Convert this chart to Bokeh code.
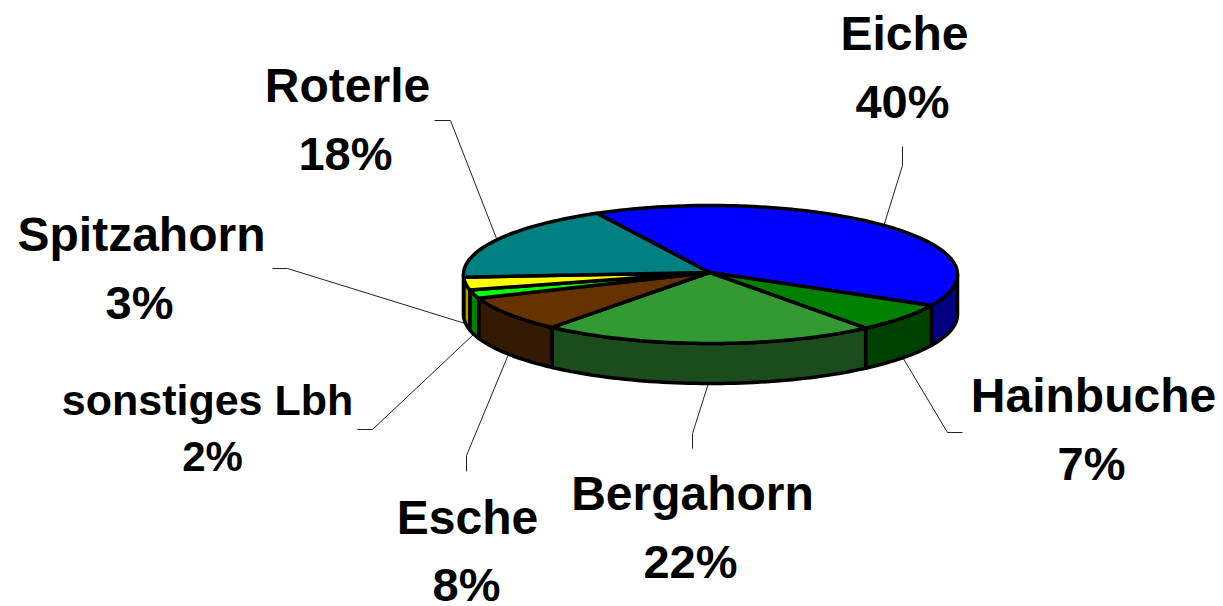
import math
from bokeh.plotting import figure
from bokeh.embed import file_html
from bokeh.resources import INLINE
from bokeh.core.properties import value

# data
categories = ["Eiche", "Hainbuche", "Bergahorn", "Esche", "sonstiges Lbh", "Spitzahorn", "Roterle"]
shares = [40, 6.8, 21.9, 8.3, 2, 3, 18]

# style
top_colors = ["#0000FF", "#008000", "#339933", "#663300", "#00FF00", "#FFFF00", "#008080"]
side_colors = ["#000080", "#004000", "#1C4C1C", "#331A00", "#008000", "#B3A000", "#004040"]

# layout (pixels in the page picture)
W, H = 1223, 606
CX, CY, RX, RY, DEPTH = 710, 274, 247, 69, 40
START = -27.4
label_xy = [(904, 33), (1093, 395), (692, 493), (467, 517), (207, 399), (141, 234), (347, 85)]
pct_xy = [(902, 101), (1091, 463), (690, 561), (466, 584), (212, 456), (139, 302), (345, 153)]
label_size = ["48px", "48px", "48px", "48px", "43px", "48px", "48px"]
pct_size = ["47px", "47px", "47px", "47px", "42px", "47px", "47px"]
leader_tail = [[(902, 146), (902, 165)], [(962, 432), (947, 432)], [(692, 448), (692, 433)],
               [(466, 471), (466, 455)], [(357, 429), (372, 429)], [(272, 268), (287, 268)],
               [(434, 120), (450, 120)]]


def rim(deg, drop=0):
    t = math.radians(deg)
    return CX + RX * math.sin(t), CY - RY * math.cos(t) + drop


def arc(a0, a1, drop=0):
    n = max(2, int(abs(a1 - a0) / 1.5) + 1)
    return [rim(a0 + (a1 - a0) * i / (n - 1), drop) for i in range(n)]


total = sum(shares)
edges = [START]
for s in shares:
    edges.append(edges[-1] + 360 * s / total)

p = figure(width=W, height=H, x_range=(0, W), y_range=(H, 0), output_backend="svg",
           toolbar_location=None, min_border=0, outline_line_color=None,
           background_fill_color="white", border_fill_color="white",
           margin=(0, 0, 0, 0))
p.axis.visible = False
p.grid.visible = False

# leaders
lx, ly = [], []
for i in range(len(shares)):
    mid = (edges[i] + edges[i + 1]) / 2
    lower = 90 < (mid % 360) < 270
    pts = leader_tail[i] + [rim(mid, DEPTH if lower else 0)]
    lx.append([q[0] for q in pts])
    ly.append([q[1] for q in pts])
p.multi_line(lx, ly, line_color="#222222", line_width=1)

# side walls (only the front half is visible)
sx, sy, sc = [], [], []
for i in range(len(shares)):
    a0, a1 = max(edges[i], 90), min(edges[i + 1], 270)
    if a1 <= a0:
        continue
    pts = arc(a0, a1) + arc(a1, a0, DEPTH)
    sx.append([q[0] for q in pts])
    sy.append([q[1] for q in pts])
    sc.append(side_colors[i])
p.patches(sx, sy, fill_color=sc, line_color="black", line_width=3.5, line_join="round")

# top slices
tx, ty = [], []
for i in range(len(shares)):
    pts = [(CX - 1, CY - 2)] + arc(edges[i], edges[i + 1])
    tx.append([q[0] for q in pts])
    ty.append([q[1] for q in pts])
p.patches(tx, ty, fill_color=top_colors, line_color="black", line_width=3.5, line_join="round")

# labels
for i, name in enumerate(categories):
    pct = f"{round(100 * shares[i] / total)}%"
    p.text([label_xy[i][0]], [label_xy[i][1]], text=[name], text_align="center", text_baseline="middle",
           text_font=value("Liberation Sans"), text_font_style="bold", text_font_size=label_size[i], text_color="black")
    p.text([pct_xy[i][0]], [pct_xy[i][1]], text=[pct], text_align="center", text_baseline="middle",
           text_font=value("Liberation Sans"), text_font_style="bold", text_font_size=pct_size[i], text_color="black")

open("out.html", "w").write(file_html(p, INLINE))
